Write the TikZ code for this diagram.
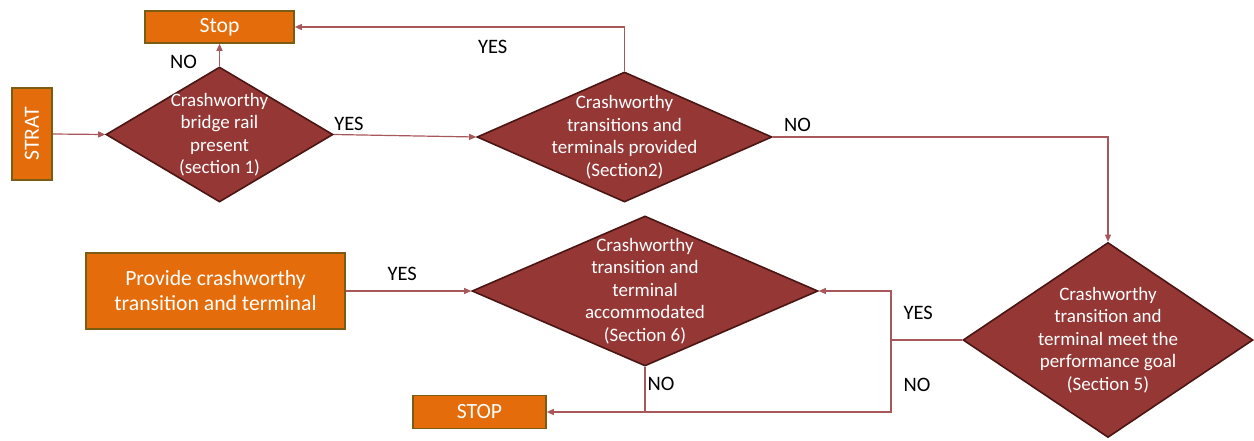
\documentclass[tikz,border=0pt]{standalone}
\usepackage{fontspec}
\setmainfont{Carlito}
\usepackage{xcolor}
\usetikzlibrary{shapes.geometric, arrows.meta}

\definecolor{boxorange}{HTML}{E46C0A}
\definecolor{boxedge}{HTML}{7A5C12}
\definecolor{decfill}{HTML}{953735}
\definecolor{decedge}{HTML}{4A1614}
\definecolor{linkred}{HTML}{A8575A}

\begin{document}
\begin{tikzpicture}[x=1pt, y=-1pt,
    box/.style={draw=boxedge, line width=1.6pt, fill=boxorange, text=white, inner sep=0pt, align=center, font=\fontsize{21.7}{25}\selectfont},
    decision/.style={diamond, draw=decedge, line width=1.6pt, fill=decfill, inner sep=0pt},
    dtext/.style={text=white, inner sep=0pt, align=center, font=\fontsize{19}{22.5}\selectfont},
    lbl/.style={text=black, inner sep=0pt, font=\fontsize{20.5}{24}\selectfont},
    linkline/.style={draw=linkred, line width=1.2pt},
    link/.style={linkline, -{Triangle[length=7pt, width=6pt]}}]
        \useasboundingbox (0,0) rectangle (1254,440);

        % Nodes
        \node[box, minimum width=40pt, minimum height=92pt] (strat) at (32,134) {\rotatebox{90}{STRAT}};
        \node[box, minimum width=149pt, minimum height=32pt] (stop1) at (219.5,27) {Stop};
        \node[box, minimum width=259pt, minimum height=76pt] (provide) at (215.5,291) {Provide crashworthy\\transition and terminal};
        \node[box, minimum width=133pt, minimum height=33pt] (stop2) at (479.5,412) {STOP};

        \node[decision, minimum width=227pt, minimum height=135pt] (d1) at (219.5,134.5) {};
        \node[dtext] (t1) at (d1) {Crashworthy\\bridge rail\\present\\(section 1)};
        \node[decision, minimum width=295pt, minimum height=130pt] (d2) at (624.5,137) {};
        \node[dtext] (t2) at (d2) {Crashworthy\\transitions and\\terminals provided\\(Section2)};
        \node[decision, minimum width=290pt, minimum height=195pt] (d3) at (1108,340) {};
        \node[dtext] (t3) at (d3) {Crashworthy\\transition and\\terminal meet the\\performance goal\\(Section 5)};
        \node[decision, minimum width=346pt, minimum height=150pt] (d4) at (645,291) {};
        \node[dtext] (t4) at (d4) {Crashworthy\\transition and\\terminal\\accommodated\\(Section 6)};

        \coordinate (split) at (891,340);

        % Arrows
        \draw[link] (strat.east) -- (d1.west);
        \draw[link] (d1.north) -- node[lbl, left=22pt, yshift=-7pt] (no1) {NO} (stop1.south);
        \draw[link] (d1.east) -- node[lbl, pos=0, anchor=south west, yshift=3pt] (yes1) {YES} (d2.west);
        \draw[link] (d2.north) |- node[lbl, pos=0.7, below=13pt] (yes2) {YES} (stop1.east);
        \draw[link] (d2.east) -| node[lbl, pos=0.037, above=5pt] (no2) {NO} (d3.north);
        \draw[link] (provide.east) -- node[lbl, pos=0.45, above=10pt] (yes3) {YES} (d4.west);
        \draw[linkline] (d3.west) -- (split);
        \draw[link] (split) |- node[lbl, pos=0.28, right=12pt] (yes4) {YES} (d4.east);
        \draw[link] (split) |- node[lbl, pos=0.31, right=12pt] (no4) {NO} (stop2.east);
        \draw[linkline] (d4.south) -- node[lbl, pos=0.37, right=2pt] (no3) {NO} (d4.south |- stop2.east);
\end{tikzpicture}
\end{document}
